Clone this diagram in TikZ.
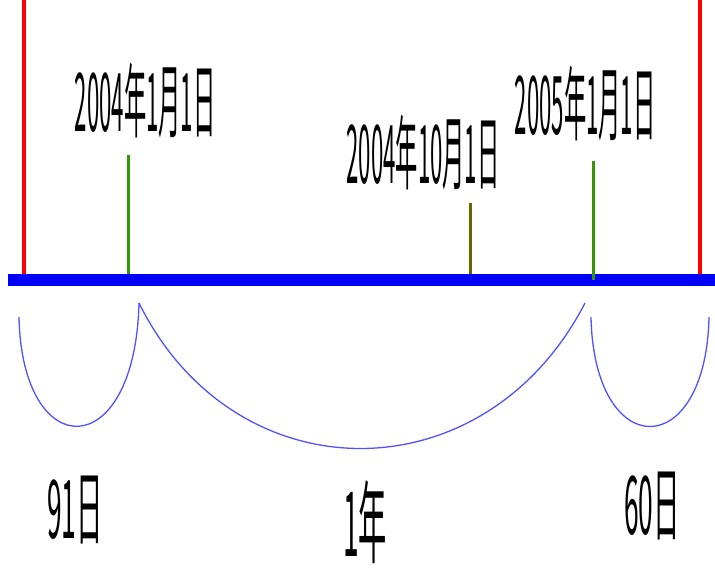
\documentclass[tikz,border=0pt]{standalone}
\usepackage{fontspec}
\usepackage{graphicx}
\newfontfamily\cjk{Noto Sans CJK SC}
\definecolor{barblue}{RGB}{0,0,255}
\definecolor{tickgreen}{RGB}{51,153,0}
\definecolor{tickolive}{RGB}{102,102,0}
\definecolor{edgered}{RGB}{255,0,0}
\tikzset{
  lbl/.style={inner sep=0pt, font=\cjk\fontsize{60}{60}\selectfont},
  redline/.style={draw=edgered, line width=4pt},
  tick/.style={line width=3pt},
  span/.style={draw=barblue!85, line width=1.3pt, opacity=0.8},
}
\newcommand{\sq}[1]{\scalebox{0.37}[1.35]{#1}}
\newcommand{\sd}[1]{\scalebox{0.44}[1.35]{#1}}
\begin{document}
\begin{tikzpicture}[x=1pt,y=-1pt]
\useasboundingbox (0,0) rectangle (715,568);
% coordinates
\coordinate (rlt) at (24,0);
\coordinate (rlb) at (24,274);
\coordinate (rrt) at (700,0);
\coordinate (rrb) at (700,274);
\coordinate (g1t) at (128,155);
\coordinate (g1b) at (128,274);
\coordinate (ot) at (470,203);
\coordinate (ob) at (470,274);
\coordinate (g2t) at (593,161);
\coordinate (g2b) at (593,280);
\coordinate (a0) at (19,317);
\coordinate (a1) at (139,303);
\coordinate (a2) at (585,303);
\coordinate (a3) at (591,317);
\coordinate (a4) at (709,317);
% red boundary lines
\draw[redline] (rlt) -- (rlb);
\draw[redline] (rrt) -- (rrb);
% blue bar
\fill[barblue] (8,274) rectangle (715,286);
% ticks
\draw[tick, draw=tickgreen] (g1t) -- (g1b);
\draw[tick, draw=tickolive] (ot) -- (ob);
\draw[tick, draw=tickgreen] (g2t) -- (g2b);
% spans
\draw[span] (a0) .. controls (22,465) and (135,465) .. (a1);
\draw[span] (a1) .. controls (235,497) and (485,497) .. (a2);
\draw[span] (a3) .. controls (594,463) and (706,463) .. (a4);
% labels
\node[lbl] (l1) at (145,101) {\sq{2004年1月1日}};
\node[lbl] (l2) at (423,153) {\sq{2004年10月1日}};
\node[lbl] (l3) at (585,104) {\sq{2005年1月1日}};
\node[lbl] (d1) at (75,510) {\sd{91日}};
\node[lbl] (d2) at (365,522) {\scalebox{0.47}[1.5]{1年}};
\node[lbl] (d3) at (652,506) {\sd{60日}};
\end{tikzpicture}
\end{document}
